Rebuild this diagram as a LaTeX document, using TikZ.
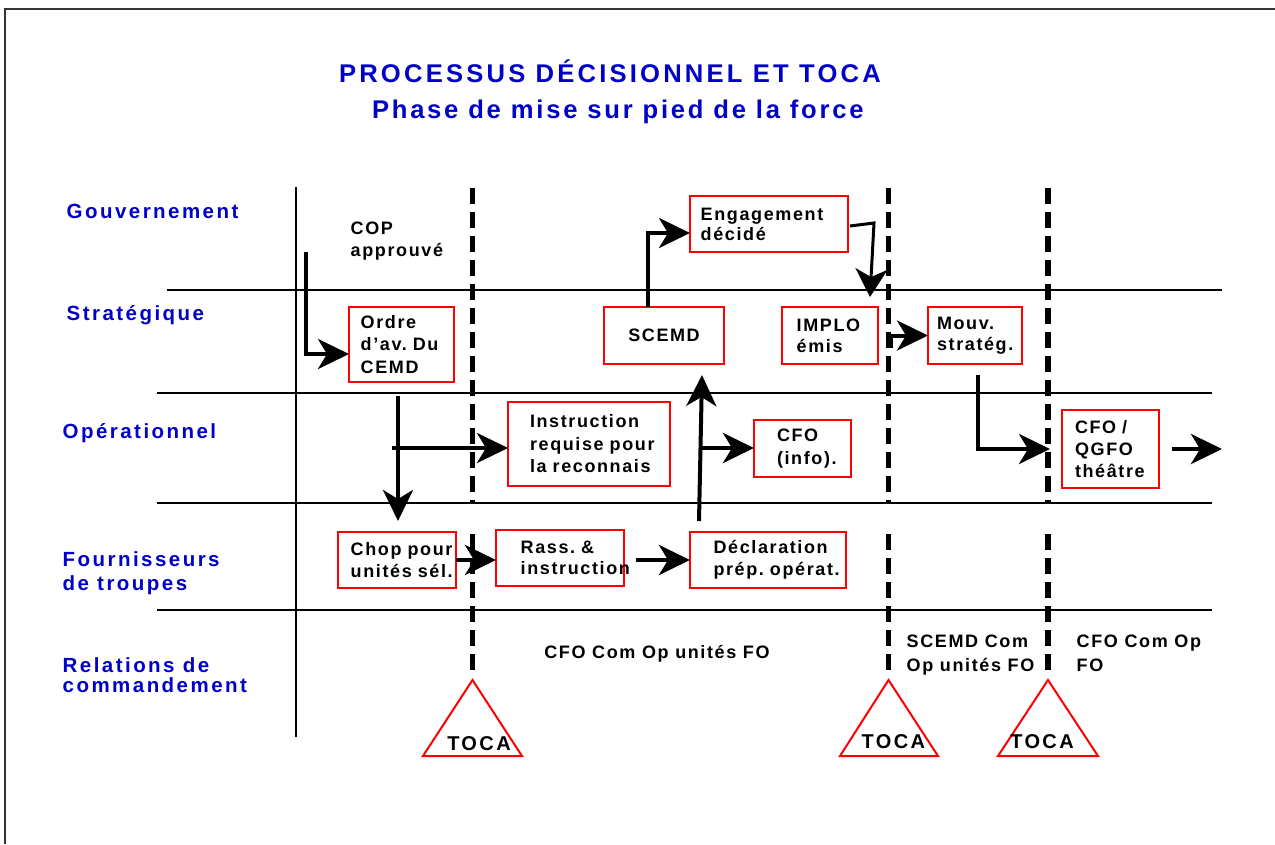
\documentclass[tikz,border=0pt]{standalone}
\usepackage{fontspec}
\setmainfont{Liberation Sans}
\newfontfamily\boxfont{Liberation Sans}[LetterSpace=9]
\newfontfamily\lanefont{Liberation Sans}[LetterSpace=12]
\newfontfamily\titlefont{Liberation Sans}[LetterSpace=12.5]
\newfontfamily\subtitlefont{Liberation Sans}[LetterSpace=10.8]
\newfontfamily\tocafont{Liberation Sans}[LetterSpace=12]
\usetikzlibrary{arrows.meta,calc}
\definecolor{boxred}{RGB}{255,0,0}
\definecolor{lanecol}{RGB}{0,0,200}
\hyphenpenalty=10000
\exhyphenpenalty=10000
\begin{document}
\begin{tikzpicture}[x=1pt,y=-1pt,
  every node/.style={inner sep=0pt,outer sep=0pt},
  box/.style={draw=boxred,line width=2pt,anchor=north west,align=left,
    font=\boxfont\bfseries\fontsize{18}{#1}\selectfont},
  box/.default=22,
  txt/.style={anchor=base west,align=left,
    font=\boxfont\bfseries\fontsize{18}{#1}\selectfont},
  txt/.default=22,
  lanelabel/.style={text=lanecol,anchor=base west,align=left,
    font=\lanefont\bfseries\fontsize{20.5}{#1}\selectfont},
  lanelabel/.default=24,
  titletext/.style={text=lanecol,anchor=base west,
    font=\titlefont\bfseries\fontsize{25.6}{30}\selectfont},
  subtitletext/.style={text=lanecol,anchor=base west,
    font=\subtitlefont\bfseries\fontsize{25.6}{30}\selectfont},
  tocatext/.style={anchor=base,font=\tocafont\bfseries\fontsize{20}{24}\selectfont},
  lane/.style={line width=2.5pt},
  separator/.style={line width=5.5pt,dash pattern=on 15.5pt off 8.5pt},
  tri/.style={draw=boxred,line width=2pt,line join=miter},
  flow/.style={line width=4pt,-{Stealth[length=31pt,width=30pt,inset=9pt]}},
  thinflow/.style={line width=3pt,-{Stealth[length=28pt,width=32pt,inset=8pt]}}
]
\useasboundingbox (0,0) rectangle (1275,844);

% outer frame
\draw[line width=2pt,black!80] (5,844) -- (5,9) -- (1275,9);

% title
\node[titletext] (title) at (339,82) {PROCESSUS DÉCISIONNEL ET TOCA};
\node[subtitletext] (subtitle) at (372,118) {Phase de mise sur pied de la force};

% swimlane grid
\draw[lane] (296,187) -- (296,737);
\draw[lane] (167,290) -- (1222,290);
\draw[lane] (157,393) -- (1212,393);
\draw[lane] (157,503) -- (1212,503);
\draw[lane] (157,610) -- (1212,610);

% lane names (base anchor = baseline of the last line)
\node[lanelabel] (gov) at (66.7,218) {Gouvernement};
\node[lanelabel] (strat) at (66.7,320) {Stratégique};
\node[lanelabel] (oper) at (62.7,438) {Opérationnel};
\node[lanelabel=24] (fourn) at (62.7,590) {Fournisseurs\\de troupes};
\node[lanelabel=20] (relat) at (62.7,692) {Relations de\\commandement};

% TOCA milestones
\coordinate (apexA) at (472.5,680);
\coordinate (apexB) at (888.5,680);
\coordinate (apexC) at (1048,680);
\draw[separator] (472.5,188) -- (472.5,503);
\draw[separator] (472.5,534) -- (472.5,676);
\draw[separator] (888.5,188) -- (888.5,503);
\draw[separator] (888.5,534) -- (888.5,676);
\draw[separator] (1048,188) -- (1048,503);
\draw[separator] (1048,534) -- (1048,676);
\draw[tri] (apexA) -- (522,756) -- (423,756) -- cycle;
\draw[tri] (apexB) -- (938,756) -- (840,756) -- cycle;
\draw[tri] (apexC) -- (1098,756) -- (998,756) -- cycle;
\node[tocatext] (tocaA) at (479,750) {TOCA};
\node[tocatext] (tocaB) at (893.4,748) {TOCA};
\node[tocatext] (tocaC) at (1042,748) {TOCA};

% free texts
\node[txt=22] (cop) at (350.7,256) {COP\\approuvé};
\node[txt] (relA) at (544.3,658.3) {CFO Com Op unités FO};
\node[txt=23.3] (relB) at (906.7,671) {SCEMD Com\\Op unités FO};
\node[txt=23.3] (relC) at (1076.7,671) {CFO Com Op\\FO};

% process boxes
\node[box=22.5,minimum width=105pt,minimum height=75pt,text width=81.6pt,inner xsep=11.7pt]
  (ordre) at (349,307) {Ordre\\d’av.~Du\\CEMD};
\node[box,align=center,minimum width=120pt,minimum height=57pt]
  (scemd) at (604,307) {SCEMD};
\node[box=20,minimum width=158pt,minimum height=56pt,text width=136.6pt,inner xsep=10.7pt]
  (engage) at (690,196) {Engagement\\décidé};
\node[box=21,minimum width=96pt,minimum height=57pt,text width=66.6pt,inner xsep=14.7pt]
  (implo) at (782,307) {IMPLO\\émis};
\node[box=21,minimum width=94pt,minimum height=57pt,text width=76pt,inner xsep=9pt]
  (mouv) at (928,307) {Mouv.\\stratég.};
\node[box=22.5,minimum width=162pt,minimum height=84pt,text width=118pt,inner xsep=22pt]
  (instr) at (508,402) {Instruction\\requise~pour\\la~reconnais};
\node[box=23,minimum width=97pt,minimum height=57pt,text width=51pt,inner xsep=23pt]
  (cfoi) at (754,420) {CFO\\(info).};
\node[box=22,minimum width=97pt,minimum height=78pt,text width=71pt,inner xsep=13pt]
  (cfoq) at (1062,410) {CFO~/\\QGFO\\théâtre};
\node[box=21.7,minimum width=118pt,minimum height=56pt,text width=92.6pt,inner xsep=12.7pt]
  (chop) at (338,532) {Chop~pour\\unités~sél.};
\node[box=21.7,minimum width=128pt,minimum height=56pt,text width=78.6pt,inner xsep=24.7pt]
  (rass) at (496,530) {Rass.~\&\\instruction};
\node[box=21.7,minimum width=156pt,minimum height=56pt,text width=109pt,inner xsep=23.5pt]
  (decl) at (690,532) {Déclaration\\prép.~opérat.};

% connectors
\coordinate (copstart) at (306,252);
\draw[flow] (copstart) |- ($(ordre.north west)+(0,47)$);
\draw[flow] ($(scemd.north)+(-16,0)$) |- ($(engage.west)+(0,9)$);
\draw[thinflow] ($(engage.east)+(2,2)$) -- ++(24,-3) -- ($(implo.north)+(40,-10)$);
\draw[flow] ($(implo.east)+(13,12)$) |- (mouv.west);
\draw[flow] ($(mouv.south)+(3,11)$) |- ($(cfoq.west)+(-12,0)$);
\coordinate (onward) at (1222,449);
\draw[flow] ($(cfoq.east)+(13,0)$) -- (onward);
\draw[flow] ($(ordre.south)+(-3.5,14)$) -- ($(chop.north)+(1,-11)$);
\coordinate (splitA) at (392,448);
\draw[flow] (splitA) -- (splitA -| instr.west);
\draw[flow] (chop.east |- 0,560) -- (rass.west |- 0,560);
\draw[flow] ($(rass.east)+(12,2)$) -- (decl.west);
\draw[flow] ($(decl.north west)+(9,-11)$) -- ($(scemd.south east)+(-22,11)$);
\coordinate (splitB) at (700.5,448);
\draw[flow] (splitB) -- (splitB -| cfoi.west);
\end{tikzpicture}
\end{document}
